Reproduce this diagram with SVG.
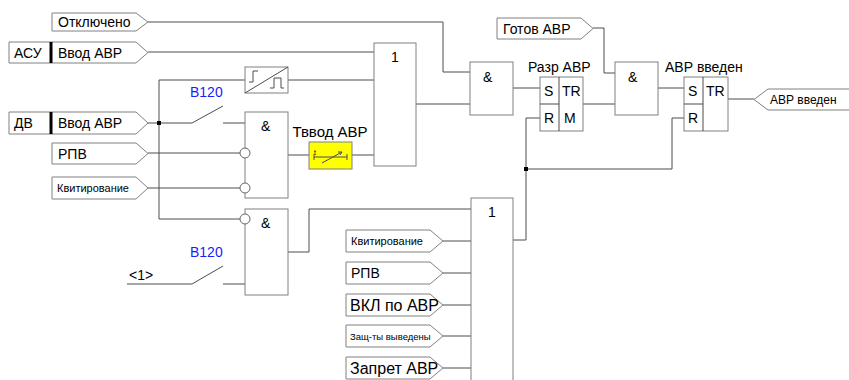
<svg xmlns="http://www.w3.org/2000/svg" width="849" height="380" viewBox="0 0 849 380">
<style>
text{font-family:"Liberation Sans",Arial,sans-serif;fill:#000}
.t14{font-size:14px}
.t11{font-size:11px}
.t10{font-size:9.5px}
.t16{font-size:16px}
.blue{fill:#1a1aff;font-size:14px}
.tag{fill:#fff;stroke:#808080;stroke-width:1}
.blk{fill:#fff;stroke:#808080;stroke-width:1}
.div{stroke:#000;stroke-width:3}
.ln{fill:none;stroke:#4d4d4d;stroke-width:1}
.bub{fill:#fff;stroke:#666;stroke-width:1}
</style>
<g id="connectors">
<path class="ln" d="M148,22 H443 V72 H470"/>
<path class="ln" d="M148,52 H374"/>
<path class="ln" d="M148,123 H192 L223,106 M223,123 H245"/>
<path class="ln" d="M159,80 H245 M288,80 H374"/>
<path class="ln" d="M159,80 V219 H240"/>
<path class="ln" d="M148,153 H240"/>
<path class="ln" d="M148,188 H240"/>
<path class="ln" d="M127,284 H192 L223,266 M223,284 H245"/>
<path class="ln" d="M288,155 H309 M352,155 H374"/>
<path class="ln" d="M416,104 H470"/>
<path class="ln" d="M513,88 H540"/>
<path class="ln" d="M288,252 H309 V209 H471"/>
<path class="ln" d="M443,241 H471 M443,273 H471 M443,305 H471 M443,336 H471 M443,368 H471"/>
<path class="ln" d="M513,240 H526 V118 H540"/>
<path class="ln" d="M526,169 H672 V118 H684"/>
<path class="ln" d="M593,28 H604 V73 H615"/>
<path class="ln" d="M583,104 H615"/>
<path class="ln" d="M658,88 H684"/>
<path class="ln" d="M728,99 H754"/>
<rect x="157" y="121" width="4" height="4" fill="#000"/>
<rect x="524" y="167" width="4" height="4" fill="#000"/>
</g>
<g id="tag-otkl">
<path class="tag" d="M52,13 H136 L148,22 L136,31 H52 Z"/>
<text class="t14" x="58" y="27">Отключено</text>
</g>
<g id="tag-asu">
<path class="tag" d="M9,42 H136 L148,52.5 L136,63 H9 Z"/>
<line class="div" x1="51" y1="42" x2="51" y2="63"/>
<text class="t14" x="14" y="58">АСУ</text>
<text class="t14" x="58" y="58">Ввод АВР</text>
</g>
<g id="tag-dv">
<path class="tag" d="M9,112 H136 L148,123 L136,134 H9 Z"/>
<line class="div" x1="51" y1="112" x2="51" y2="134"/>
<text class="t14" x="14" y="128">ДВ</text>
<text class="t14" x="58" y="128">Ввод АВР</text>
</g>
<g id="tag-rpv1">
<path class="tag" d="M52,143 H136 L148,153.5 L136,164 H52 Z"/>
<text class="t14" x="58" y="159">РПВ</text>
</g>
<g id="tag-kvit1">
<path class="tag" d="M52,177 H136 L148,188 L136,199 H52 Z"/>
<text class="t11" x="57" y="192">Квитирование</text>
</g>
<g id="sw1">
<text class="blue" x="190" y="97">B120</text>
</g>
<g id="sw2">
<text class="blue" x="190" y="257">B120</text>
<text class="t14" x="129" y="280">&lt;1&gt;</text>
</g>
<g id="pulse">
<rect class="blk" x="245" y="67" width="43" height="26"/>
<path class="ln" d="M245,93 L288,67"/>
<path class="ln" d="M249,82 H253 V71 H258"/>
<path class="ln" d="M270,88 H274 V78 H281 V88 H284"/>
</g>
<g id="and1">
<rect class="blk" x="245" y="112" width="43" height="86"/>
<text class="t14" x="261" y="131">&amp;</text>
<circle class="bub" cx="245" cy="153" r="5"/>
<circle class="bub" cx="245" cy="188" r="5"/>
</g>
<g id="timer">
<text class="t14" x="330" y="137" text-anchor="middle" style="font-size:15px">Тввод АВР</text>
<rect x="309" y="142" width="43" height="27" fill="#ffff00" stroke="#808080"/>
<path class="ln" d="M314,157 H347 M314,154 V160 M347,154 V160 M322,163 L342,152 M338,152 L342,152 L340,155"/>
<text x="314" y="155" style="font-size:7px">t</text>
</g>
<g id="and3">
<rect class="blk" x="245" y="209" width="43" height="86"/>
<text class="t14" x="261" y="228">&amp;</text>
<circle class="bub" cx="245" cy="219" r="5"/>
</g>
<g id="or1">
<rect class="blk" x="374" y="43" width="42" height="123"/>
<text class="t14" x="391" y="62">1</text>
</g>
<g id="and2">
<rect class="blk" x="470" y="62" width="43" height="53"/>
<text class="t14" x="483" y="82">&amp;</text>
</g>
<g id="or2">
<rect class="blk" x="471" y="198" width="42" height="200"/>
<text class="t14" x="488" y="217">1</text>
</g>
<g id="tag-kvit2">
<path class="tag" d="M346,230 H430 L443,241 L430,252 H346 Z"/>
<text class="t11" x="351" y="245">Квитирование</text>
</g>
<g id="tag-rpv2">
<path class="tag" d="M346,262 H430 L443,273 L430,284 H346 Z"/>
<text class="t14" x="351" y="278">РПВ</text>
</g>
<g id="tag-vkl">
<path class="tag" d="M346,294 H430 L443,305 L430,316 H346 Z"/>
<text class="t16" x="350" y="311">ВКЛ по АВР</text>
</g>
<g id="tag-zasch">
<path class="tag" d="M346,325 H430 L443,336 L430,347 H346 Z"/>
<text class="t10" x="350" y="340">Защ-ты выведены</text>
</g>
<g id="tag-zapret">
<path class="tag" d="M346,357 H430 L443,368 L430,379 H346 Z"/>
<text class="t16" x="350" y="374">Запрет АВР</text>
</g>
<g id="sr1">
<text class="t14" x="528" y="72">Разр АВР</text>
<rect class="blk" x="540" y="77" width="43" height="54"/>
<path class="ln" d="M559,77 V131 M540,104 H559" stroke="#808080"/>
<text class="t14" x="544" y="96">S</text>
<text class="t14" x="562" y="96">TR</text>
<text class="t14" x="544" y="123">R</text>
<text class="t14" x="564" y="123">M</text>
</g>
<g id="tag-gotov">
<path class="tag" d="M497,18 H581 L593,28.5 L581,39 H497 Z"/>
<text class="t14" x="503" y="34">Готов АВР</text>
</g>
<g id="and4">
<rect class="blk" x="615" y="62" width="43" height="53"/>
<text class="t14" x="628" y="82">&amp;</text>
</g>
<g id="sr2">
<text class="t14" x="665" y="72">АВР введен</text>
<rect class="blk" x="684" y="77" width="44" height="54"/>
<path class="ln" d="M703,77 V131 M684,104 H703" stroke="#808080"/>
<text class="t14" x="688" y="96">S</text>
<text class="t14" x="706" y="96">TR</text>
<text class="t14" x="688" y="123">R</text>
</g>
<g id="tag-out">
<path class="tag" d="M860,89 H768 L754,99.5 L768,110 H860 Z"/>
<text x="770" y="104" style="font-size:12px">АВР введен</text>
</g>
</svg>
